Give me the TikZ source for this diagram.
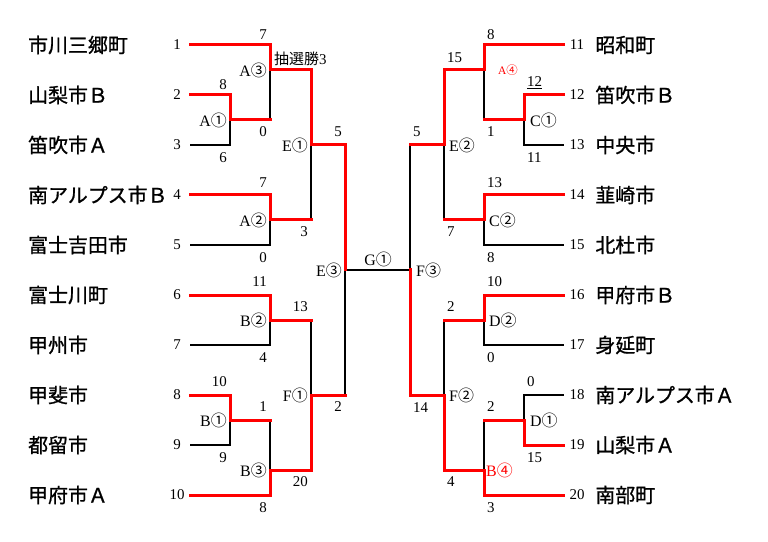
\documentclass[tikz,border=0pt]{standalone}
\usepackage{fontspec}
\setmainfont{Liberation Serif}
\newfontfamily\jp{Noto Sans CJK JP}
\newfontfamily\jpb[FakeBold=1]{Noto Sans CJK JP}
\usetikzlibrary{positioning}
\newcommand{\maru}[1]{{\jp #1}}
\tikzset{
    % bracket lines
    won/.style={draw=red, line width=3bp, line cap=rect},
    lost/.style={draw=black, line width=1.8bp},
    % texts
    city/.style={font=\jpb\fontsize{20}{22}\selectfont, inner sep=0pt},
    num/.style={font=\fontsize{15}{17}\selectfont, minimum width=26bp, inner sep=0pt},
    score/.style={font=\fontsize{15}{17}\selectfont, inner sep=0pt},
    match/.style={font=\fontsize{16}{18}\selectfont, inner sep=0pt},
}
\begin{document}
\begin{tikzpicture}[x=1bp, y=-1bp]
	\useasboundingbox (0,0) rectangle (768,542);
	%
	% teams
	%
	\foreach \i/\name in {1/市川三郷町,2/山梨市Ｂ,3/笛吹市Ａ,4/南アルプス市Ｂ,5/富士吉田市,
	                      6/富士川町,7/甲州市,8/甲斐市,9/都留市,10/甲府市Ａ}{
		\node[num] (t\i) at (177,{45+50*(\i-1)}) {\i};
		\node[city, anchor=west] (c\i) at (28,{45+50*(\i-1)}) {\name};
	}
	\foreach \i/\name in {11/昭和町,12/笛吹市Ｂ,13/中央市,14/韮崎市,15/北杜市,
	                      16/甲府市Ｂ,17/身延町,18/南アルプス市Ａ,19/山梨市Ａ,20/南部町}{
		\node[num] (t\i) at (577,{45+50*(\i-11)}) {\i};
		\node[city, right=5bp of t\i] (c\i) {\name};
	}
	%
	% matches
	%
	\coordinate (A1) at (230,120);
	\coordinate (A3) at (270,70);
	\coordinate (A2) at (270,220);
	\coordinate (E1) at (311,145);
	\coordinate (E3) at (345,270);
	\coordinate (B2) at (270,320);
	\coordinate (B1) at (230,420);
	\coordinate (B3) at (270,470);
	\coordinate (F1) at (311,395);
	\coordinate (A4) at (484,70);
	\coordinate (C1) at (524,120);
	\coordinate (C2) at (484,220);
	\coordinate (E2) at (444,145);
	\coordinate (F3) at (410,270);
	\coordinate (D2) at (484,320);
	\coordinate (D1) at (524,420);
	\coordinate (B4) at (484,470);
	\coordinate (F2) at (444,395);
	%
	% lines, lost
	%
	\draw[lost] (t3.east) -| (A1);
	\draw[lost] (t5.east) -| (A2);
	\draw[lost] (A1 -| A3) -- (A3);
	\draw[lost] (A2 -| E1) -- (E1);
	\draw[lost] (t7.east) -| (B2);
	\draw[lost] (t9.east) -| (B1);
	\draw[lost] (B1 -| B3) -- (B3);
	\draw[lost] (B2 -| F1) -- (F1);
	\draw[lost] (F1 -| E3) -- (E3);
	\draw[lost] (E3) -- (F3);
	\draw[lost] (t13.west) -| (C1);
	\draw[lost] (t15.west) -| (C2);
	\draw[lost] (C1 -| A4) -- (A4);
	\draw[lost] (C2 -| E2) -- (E2);
	\draw[lost] (E2 -| F3) -- (F3);
	\draw[lost] (t17.west) -| (D2);
	\draw[lost] (t18.west) -| (D1);
	\draw[lost] (D1 -| B4) -- (B4);
	\draw[lost] (D2 -| F2) -- (F2);
	%
	% lines, won
	%
	\draw[won] (t1.east) -| (A3);
	\draw[won] (t2.east) -| (A1);
	\draw[won] (A1) -- (A1 -| A3);
	\draw[won] (t4.east) -| (A2);
	\draw[won] (A3) -| (E1);
	\draw[won] (A2) -- (A2 -| E1);
	\draw[won] (E1) -| (E3);
	\draw[won] (t6.east) -| (B2);
	\draw[won] (t8.east) -| (B1);
	\draw[won] (B1) -- (B1 -| B3);
	\draw[won] (t10.east) -| (B3);
	\draw[won] (B2) -- (B2 -| F1);
	\draw[won] (B3) -| (F1);
	\draw[won] (F1) -- (F1 -| E3);
	\draw[won] (t11.west) -| (A4);
	\draw[won] (t12.west) -| (C1);
	\draw[won] (C1) -- (C1 -| A4);
	\draw[won] (t14.west) -| (C2);
	\draw[won] (A4) -| (E2);
	\draw[won] (C2) -- (C2 -| E2);
	\draw[won] (E2) -- (E2 -| F3);
	\draw[won] (t16.west) -| (D2);
	\draw[won] (t19.west) -| (D1);
	\draw[won] (D1) -- (D1 -| B4);
	\draw[won] (t20.west) -| (B4);
	\draw[won] (D2) -- (D2 -| F2);
	\draw[won] (B4) -| (F2);
	\draw[won] (F2) -| (F3);
	%
	% match names
	%
	\node[match, anchor=east] (mA1) at (227,120) {A\maru{①}};
	\node[match, anchor=east] (mA3) at (267,70) {A\maru{③}};
	\node[match, anchor=east] (mA2) at (267,220) {A\maru{②}};
	\node[match, anchor=east] (mE1) at (308,145) {E\maru{①}};
	\node[match, anchor=east] (mE3) at (342,270) {E\maru{③}};
	\node[match, anchor=east] (mB2) at (267,320) {B\maru{②}};
	\node[match, anchor=east] (mB1) at (227,420) {B\maru{①}};
	\node[match, anchor=east] (mB3) at (267,470) {B\maru{③}};
	\node[match, anchor=east] (mF1) at (308,395) {F\maru{①}};
	\node[match] (mG1) at (378,259) {G\maru{①}};
	\node[match, anchor=west] (mF3) at (416,270) {F\maru{③}};
	\node[match, anchor=west] (mE2) at (449,145) {E\maru{②}};
	\node[match, anchor=west, text=red, font=\fontsize{11.5}{13}\selectfont] (mA4) at (498,70) {A\maru{④}};
	\node[match, anchor=west] (mC1) at (530,120) {C\maru{①}};
	\node[match, anchor=west] (mC2) at (489,220) {C\maru{②}};
	\node[match, anchor=west] (mD2) at (489,320) {D\maru{②}};
	\node[match, anchor=west] (mF2) at (449,395) {F\maru{②}};
	\node[match, anchor=west] (mD1) at (530,420) {D\maru{①}};
	\node[match, anchor=west, text=red] (mB4) at (486,470) {B\maru{④}};
	%
	% scores
	%
	\node[score, anchor=east] (sA3u) at (267,35) {7};
	\node[score, anchor=east] (sA3d) at (267,132) {0};
	\node[score, anchor=east] (sA1u) at (227,85) {8};
	\node[score, anchor=east] (sA1d) at (227,158) {6};
	\node[score, anchor=east] (sA2u) at (267,183) {7};
	\node[score, anchor=east] (sA2d) at (267,258) {0};
	\node[score, anchor=west] (sE1u) at (274,59) {{\jp 抽選勝}3};
	\node[score, anchor=east] (sE1d) at (308,232) {3};
	\node[score, anchor=east] (sE3u) at (342,132) {5};
	\node[score, anchor=east] (sE3d) at (342,407) {2};
	\node[score, anchor=east] (sB2u) at (267,282) {11};
	\node[score, anchor=east] (sB2d) at (267,358) {4};
	\node[score, anchor=east] (sB1u) at (227,382) {10};
	\node[score, anchor=east] (sB1d) at (227,458) {9};
	\node[score, anchor=east] (sB3u) at (267,407) {1};
	\node[score, anchor=east] (sB3d) at (267,508) {8};
	\node[score, anchor=east] (sF1u) at (308,307) {13};
	\node[score, anchor=east] (sF1d) at (308,482) {20};
	\node[score, anchor=west] (sA4u) at (487,35) {8};
	\node[score, anchor=west] (sA4d) at (487,132) {1};
	\node[score, anchor=west] (sC1u) at (527,83) {\underline{12}};
	\node[score, anchor=west] (sC1d) at (527,158) {11};
	\node[score, anchor=west] (sC2u) at (487,183) {13};
	\node[score, anchor=west] (sC2d) at (487,258) {8};
	\node[score, anchor=west] (sE2u) at (447,58) {15};
	\node[score, anchor=west] (sE2d) at (447,232) {7};
	\node[score, anchor=west] (sF3u) at (413,132) {5};
	\node[score, anchor=west] (sF3d) at (413,408) {14};
	\node[score, anchor=west] (sD2u) at (487,282) {10};
	\node[score, anchor=west] (sD2d) at (487,358) {0};
	\node[score, anchor=west] (sD1u) at (527,382) {0};
	\node[score, anchor=west] (sD1d) at (527,458) {15};
	\node[score, anchor=west] (sB4u) at (487,407) {2};
	\node[score, anchor=west] (sB4d) at (487,508) {3};
	\node[score, anchor=west] (sF2u) at (447,307) {2};
	\node[score, anchor=west] (sF2d) at (447,482) {4};
\end{tikzpicture}
\end{document}
